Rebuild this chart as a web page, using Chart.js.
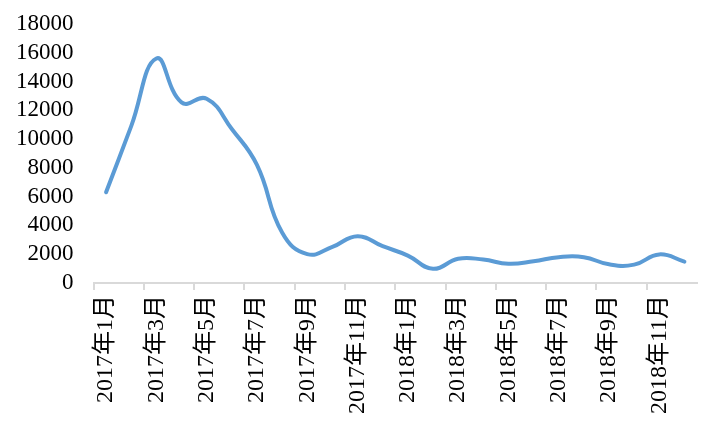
<!DOCTYPE html>
<html>
<head>
<meta charset="utf-8">
<script src="https://cdn.jsdelivr.net/npm/chart.js@4/dist/chart.umd.min.js"></script>
<style>
html,body{margin:0;padding:0;background:#fff;}
#wrap{width:720px;height:434px;position:relative;}
</style>
</head>
<body>
<div id="wrap"><canvas id="c" width="720" height="434"></canvas></div>
<script>
const categories = [
  "2017年1月","2017年2月","2017年3月","2017年4月","2017年5月","2017年6月",
  "2017年7月","2017年8月","2017年9月","2017年10月","2017年11月","2017年12月",
  "2018年1月","2018年2月","2018年3月","2018年4月","2018年5月","2018年6月",
  "2018年7月","2018年8月","2018年9月","2018年10月","2018年11月","2018年12月"
];
const values = [
  6300, 10900, 15600, 12550, 12800, 10700,
  8200, 3500, 2000, 2500, 3250, 2550,
  1900, 980, 1680, 1620, 1330, 1500,
  1790, 1790, 1290, 1270, 1980, 1480
];
const yTicks = { min: 0, max: 18000, step: 2000 };

const fontFamily = '"Liberation Serif","Times New Roman","Noto Sans CJK SC",serif';

new Chart(document.getElementById('c'), {
  type: 'line',
  data: {
    labels: categories,
    datasets: [{
      data: values,
      borderColor: '#5B9BD5',
      borderWidth: 4,
      tension: 0.45,
      pointRadius: 0,
      borderCapStyle: 'round',
      borderJoinStyle: 'round',
      fill: false
    }]
  },
  options: {
    responsive: false,
    animation: false,
    devicePixelRatio: 1,
    layout: { padding: { left: -4, right: 23, top: 24, bottom: 15 } },
    plugins: { legend: { display: false }, tooltip: { enabled: false } },
    scales: {
      x: {
        offset: true,
        afterFit: (s) => { s.paddingTop = 0; s.paddingBottom = 0; },
        grid: {
          offset: true,
          drawOnChartArea: false,
          drawTicks: true,
          tickLength: 7,
          lineWidth: 2,
          color: (ctx) => (ctx.index % 2 === 0 ? '#d9d9d9' : 'rgba(0,0,0,0)')
        },
        border: { display: true, color: '#d9d9d9', width: 2 },
        ticks: {
          autoSkip: false,
          maxRotation: 90,
          minRotation: 90,
          padding: 5,
          color: '#000',
          font: { family: fontFamily, size: 24 },
          callback: function(v, i) { return i % 2 === 0 ? this.getLabelForValue(v) : ''; }
        }
      },
      y: {
        min: yTicks.min,
        max: yTicks.max,
        afterFit: (s) => { s.paddingTop = 0; },
        grid: { display: false, drawTicks: false },
        border: { display: false },
        ticks: {
          autoSkip: false,
          stepSize: yTicks.step,
          padding: 20,
          color: '#000',
          font: { family: fontFamily, size: 23 },
          callback: (v) => String(v)
        }
      }
    }
  }
});
</script>
</body>
</html>
